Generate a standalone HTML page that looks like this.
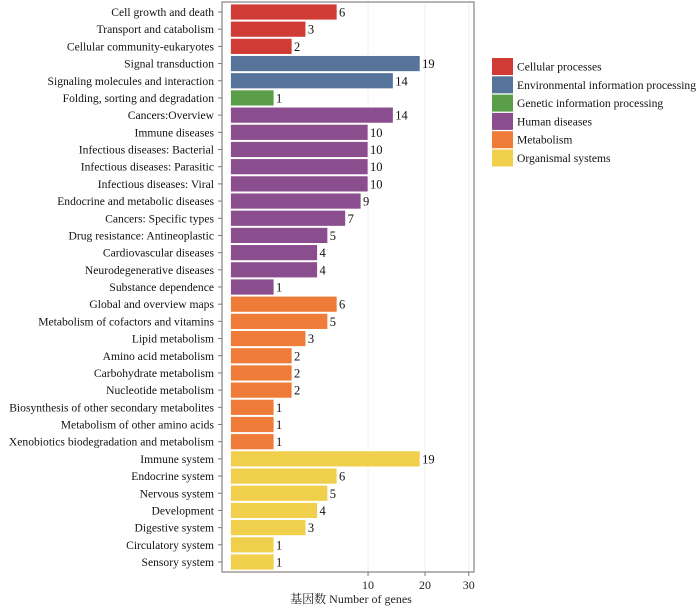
<!DOCTYPE html>
<html><head><meta charset="utf-8"><style>
body{margin:0;background:#fff;}
svg text{font-family:"Liberation Serif","Noto Serif CJK SC",serif;}
</style></head><body>
<svg width="700" height="606" xmlns="http://www.w3.org/2000/svg" id="chart"></svg>
<script>
const categories=["Cell growth and death","Transport and catabolism","Cellular community-eukaryotes","Signal transduction","Signaling molecules and interaction","Folding, sorting and degradation","Cancers:Overview","Immune diseases","Infectious diseases: Bacterial","Infectious diseases: Parasitic","Infectious diseases: Viral","Endocrine and metabolic diseases","Cancers: Specific types","Drug resistance: Antineoplastic","Cardiovascular diseases","Neurodegenerative diseases","Substance dependence","Global and overview maps","Metabolism of cofactors and vitamins","Lipid metabolism","Amino acid metabolism","Carbohydrate metabolism","Nucleotide metabolism","Biosynthesis of other secondary metabolites","Metabolism of other amino acids","Xenobiotics biodegradation and metabolism","Immune system","Endocrine system","Nervous system","Development","Digestive system","Circulatory system","Sensory system"];
const values=[6,3,2,19,14,1,14,10,10,10,10,9,7,5,4,4,1,6,5,3,2,2,2,1,1,1,19,6,5,4,3,1,1];
const groups=[0,0,0,1,1,2,3,3,3,3,3,3,3,3,3,3,3,4,4,4,4,4,4,4,4,4,5,5,5,5,5,5,5];
const groupNames=["Cellular processes","Environmental information processing","Genetic information processing","Human diseases","Metabolism","Organismal systems"];
const colors=["#d13b35","#56739a","#5a9e47","#8a4d8d","#ef7b38","#f0cf4c"];
const ticks=[10,20,30];
(function(){
const svg=document.getElementById('chart');
const NS="http://www.w3.org/2000/svg";
function mk(t,a){const e=document.createElementNS(NS,t);for(const k in a)e.setAttribute(k,a[k]);svg.appendChild(e);return e;}
const x0=230.5,k=43.5;
const xs=v=>x0+k*Math.sqrt(v);
const y0=12,step=550/(categories.length-1);
const ys=i=>y0+i*step;
ticks.forEach(t=>{const l=mk('line',{x1:xs(t),x2:xs(t),y1:2,y2:572,stroke:'#eeeeee','stroke-width':1});

});
categories.forEach((c,i)=>{
 const y=ys(i);
 const r=mk('rect',{x:x0,y:y-8,width:xs(values[i])-x0,height:16,fill:colors[groups[i]],stroke:'#ffffff','stroke-width':0.8});
 
 
 const v=mk('text',{x:xs(values[i])+2,y:y+4.5,'font-size':12.5,fill:'#111'});v.textContent=values[i];
 
 
 const lb=mk('text',{x:214,y:y+4,'font-size':11.6,'text-anchor':'end',fill:'#111'});lb.textContent=c;
 
 
 const tk=mk('line',{x1:218,x2:222,y1:y,y2:y,stroke:'#777'});
 
 
});
const fr=mk('rect',{x:222,y:2,width:252,height:570,fill:'none',stroke:'#8a7f7f','stroke-width':1.2});


ticks.forEach(t=>{
 const l=mk('line',{x1:xs(t),x2:xs(t),y1:572,y2:576,stroke:'#777'});
 
 
 const tx=mk('text',{x:xs(t),y:589,'font-size':12,'text-anchor':'middle',fill:'#222'});tx.textContent=t;
 
 
});
const at=mk('text',{x:351,y:603,'font-size':12,'text-anchor':'middle',fill:'#222'});at.textContent="基因数  Number of genes";


groupNames.forEach((g,i)=>{
 const y=58+i*18.3;
 const r=mk('rect',{x:492,y:y,width:21,height:17,fill:colors[i]});
 
 
 const t=mk('text',{x:517,y:y+12.5,'font-size':11.6,fill:'#111'});t.textContent=g;
 
 
});
})();
</script>
</body></html>
